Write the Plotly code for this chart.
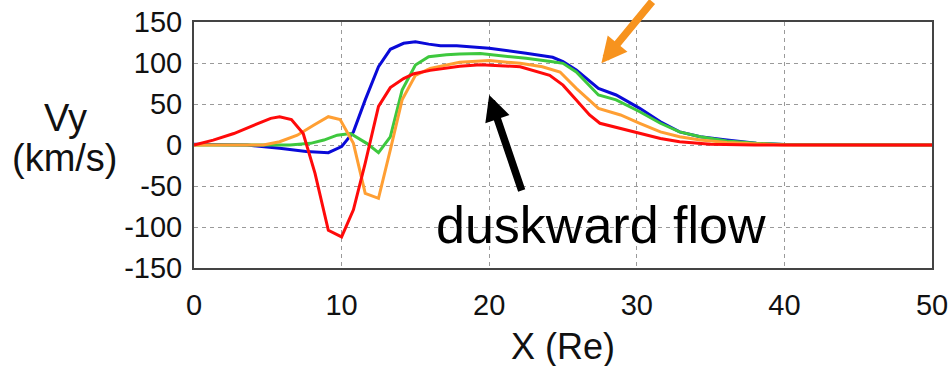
import plotly.graph_objects as go

# Vy profiles along X for four runs
blue_x = [0, 3.6, 5.8, 7.6, 9.1, 10.0, 10.8, 11.6, 12.5, 13.3, 14.2, 15.0, 15.9, 16.7, 17.8, 19.4, 20.0,
          22.5, 24.3, 25.0, 25.9, 27.4, 28.6, 30.2, 31.6, 32.9, 34.3, 36.1, 38.1, 40, 50]
blue_y = [1, 0, -4, -8, -9.3, -2, 16, 55, 95.5, 116.7, 124, 126, 123, 121, 121, 119, 118,
          112, 107, 101.6, 91.5, 69, 61, 44.7, 28.4, 16, 10, 6, 2, 0.5, 0]

green_x = [0, 6.5, 7.9, 8.8, 9.7, 10.6, 11.7, 12.5, 13.3, 14.1, 15.0, 15.9, 17.1, 18.0, 19.4, 20.0,
           22.5, 24.3, 25.0, 25.9, 27.4, 28.6, 30.2, 31.6, 32.9, 34.3, 36.1, 38.1, 40, 50]
green_y = [0, 0, 2, 6, 12, 14, 2, -9.3, 10, 67, 97.5, 107.7, 110, 111, 111.5, 110.5,
           105.7, 101.6, 99.6, 89, 61, 55, 40.6, 26.5, 16, 10, 5, 2, 0.5, 0]

orange_x = [0, 4.7, 5.8, 7.0, 8.1, 9.1, 9.9, 10.8, 11.6, 12.5, 13.3, 14.1, 15.0, 16.0, 18.0, 20.0,
            22.1, 23.6, 24.8, 25.9, 27.4, 28.9, 30.2, 31.6, 32.9, 34.3, 36.1, 38.1, 40, 50]
orange_y = [0, 0, 4, 12, 24, 34.5, 31, 2, -59, -65, -6, 55, 85, 93.5, 101, 103,
            99.6, 95.5, 89, 69, 44.7, 36.6, 26.5, 16, 10, 6, 3, 1, 0, 0]

red_x = [0, 1.3, 2.7, 4.0, 5.2, 5.8, 6.6, 7.4, 8.2, 9.1, 10.0, 10.8, 11.6, 12.5, 13.3, 14.2, 14.9,
         16.0, 17.1, 18.0, 19.4, 20.1, 22.1, 24.1, 25.0, 25.9, 26.8, 27.5, 28.9, 30.2, 31.6, 32.9,
         35.0, 38.0, 50]
red_y = [0, 6, 14, 24, 32.5, 34.5, 31, 14, -34.5, -104, -112, -79, -22, 47, 70, 81, 87,
         91, 94, 96, 98, 97.5, 95.5, 85, 73, 55, 36.6, 26.5, 20, 14, 8, 4,
         1, 0, 0]

x_ticks = [0, 10, 20, 30, 40, 50]
y_ticks = [-150, -100, -50, 0, 50, 100, 150]

FONT = "Liberation Sans, Arial, sans-serif"

fig = go.Figure()
for xs, ys, col in [(blue_x, blue_y, "#0a0ad8"),
                    (green_x, green_y, "#3ec83e"),
                    (orange_x, orange_y, "#ff9f33"),
                    (red_x, red_y, "#ff0a0a")]:
    fig.add_trace(go.Scatter(x=xs, y=ys, mode="lines",
                             line=dict(color=col, width=3), showlegend=False))

axis_common = dict(
    showgrid=True, gridcolor="#9a9a9a", gridwidth=1, griddash="4px,4px",
    showline=True, linecolor="#444444", linewidth=2, mirror=True,
    zeroline=False, ticks="", automargin=False,
    tickfont=dict(family=FONT, size=29, color="#111111"),
)

fig.update_xaxes(range=[0, 50], tickvals=x_ticks, ticktext=[str(v) for v in x_ticks],
                 ticklabelstandoff=10, **axis_common)
fig.update_yaxes(range=[-150, 150], tickvals=y_ticks, ticktext=[str(v) for v in y_ticks],
                 ticklabelstandoff=4, **axis_common)

fig.update_layout(
    width=952, height=366,
    margin=dict(l=194, r=20, t=22, b=98),
    paper_bgcolor="white", plot_bgcolor="white",
    font=dict(family=FONT, color="#111111"),
)

# Axis titles
fig.add_annotation(text="X (Re)", xref="paper", yref="paper", x=0.5, y=0,
                   yshift=-78, showarrow=False, xanchor="center", yanchor="middle",
                   font=dict(family=FONT, size=36, color="#111111"))
fig.add_annotation(text="Vy", xref="paper", yref="paper", x=0, y=0.5,
                   xshift=-129, yshift=27, showarrow=False,
                   xanchor="center", yanchor="middle",
                   font=dict(family=FONT, size=38, color="#111111"))
fig.add_annotation(text="(km/s)", xref="paper", yref="paper", x=0, y=0.5,
                   xshift=-129, yshift=-13, showarrow=False,
                   xanchor="center", yanchor="middle",
                   font=dict(family=FONT, size=38, color="#111111"))

# Label and arrows
fig.add_annotation(text="duskward flow", x=27.6, y=-98, xref="x", yref="y",
                   showarrow=False, xanchor="center", yanchor="middle",
                   font=dict(family=FONT, size=52, color="#000000"))
fig.add_annotation(x=20.0, y=61, xref="x", yref="y", ax=33, ay=97,
                   showarrow=True, arrowhead=2, arrowwidth=7.5, arrowsize=0.68,
                   arrowcolor="#000000", text="")
fig.add_annotation(x=27.6, y=99.6, xref="x", yref="y", ax=52, ay=-73,
                   showarrow=True, arrowhead=2, arrowwidth=7.5, arrowsize=0.68,
                   arrowcolor="#f7931e", text="")

fig.write_html("out.html")
